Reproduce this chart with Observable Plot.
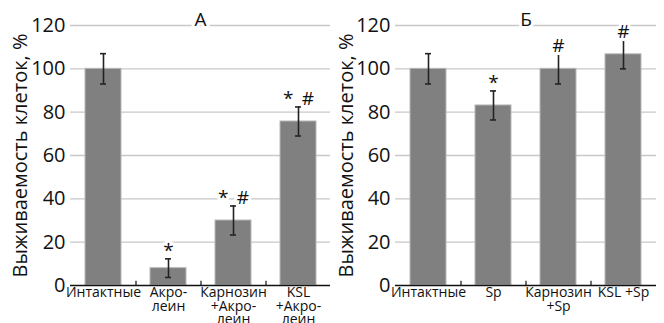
<!DOCTYPE html>
<html><head><meta charset="utf-8">
<script src="https://cdn.jsdelivr.net/npm/d3@7"></script>
<script src="https://cdn.jsdelivr.net/npm/@observablehq/plot@0.6"></script>
<style>
body{margin:0;background:#fff;}
#wrap{display:flex;width:664px;height:323px;overflow:hidden;}
</style></head>
<body><div id="wrap"></div>
<script>
const catsA = ["Интактные", "Акро-\nлеин", "Карнозин\n+Акро-\nлеин", "KSL\n+Акро-\nлеин"];
const valsA = [100, 8, 30, 75.7];
const errA = [7, 4.3, 6.7, 6.7];
const marksA = ["", "*", "* #", "* #"];

const catsB = ["Интактные", "Sp", "Карнозин\n+Sp", "KSL +Sp"];
const valsB = [100, 83.1, 100, 106.7];
const errB = [7, 6.7, 7, 6.7];
const marksB = ["", "*", "#", "#"];

const yTicks = [0, 20, 40, 60, 80, 100, 120];
const titles = ["А", "Б"];
const yLabel = "Выживаемость клеток, %";

function panel(cats, vals, errs, sig, title, mL, mR, lOff) {
  const data = cats.map((c, i) => ({c, v: vals[i], e: errs[i], s: sig[i]}));
  return Plot.plot({
    width: 332, height: 323,
    marginLeft: mL, marginRight: mR, marginTop: 25, marginBottom: 38,
    style: {fontFamily: "'Open Sans', sans-serif", background: "white", overflow: "visible"},
    x: {domain: cats, paddingInner: 0.45, paddingOuter: 0.225, axis: null},
    y: {domain: [0, 120], axis: null},
    marks: [
      Plot.ruleY(yTicks.slice(1), {stroke: "#c8c8c8", strokeWidth: 1.3}),
      Plot.barY(data, {x: "c", y: "v", fill: "#808080", stroke: "#b8b8b8", strokeWidth: 1}),
      Plot.ruleX(data, {x: "c", y1: d => d.v - d.e, y2: d => d.v + d.e, stroke: "#222", strokeWidth: 1.6}),
      Plot.tickY(data, {x: "c", y: d => d.v + d.e, stroke: "#222", strokeWidth: 1.6, inset: 15}),
      Plot.tickY(data, {x: "c", y: d => d.v - d.e, stroke: "#222", strokeWidth: 1.6, inset: 15}),
      Plot.text(data.filter(d => d.s), {x: "c", y: d => d.v + d.e, text: d => d.s.replace(" ", "\u2009\u00a0"), lineAnchor: "bottom", dy: -2,
        fontSize: 19, fill: "#111", stroke: "white", strokeWidth: 6}),
      Plot.ruleX(cats.slice(1), {x: d => d, y1: 0, y2: 2, dx: -32.5, stroke: "#111", strokeWidth: 1.2}),
      Plot.ruleY([0], {stroke: "#111", strokeWidth: 1.5}),
      Plot.ruleX([0], {frameAnchor: "left", y1: 0, y2: 120, stroke: "#111", strokeWidth: 1.5}),
      Plot.axisY(yTicks, {tickSize: 0, tickPadding: 5, fontSize: 20, fill: "#111", label: null}),
      Plot.axisY({label: yLabel, labelAnchor: "center", labelArrow: "none", ticks: [], tickSize: 0, fontSize: 20, labelOffset: lOff, fill: "#111"}),
      Plot.axisX(cats, {tickSize: 0, tickPadding: 2, fontSize: 14, lineHeight: 0.97, fill: "#111", label: null}),
      Plot.text([title], {frameAnchor: "top", dy: -13, fontSize: 19, fill: "#111", stroke: "white", strokeWidth: 6})
    ]
  });
}
const w = document.getElementById("wrap");
w.appendChild(panel(catsA, valsA, errA, marksA, titles[0], 70, 2, 58));
w.appendChild(panel(catsB, valsB, errB, marksB, titles[1], 63, 8, 57));
</script></body></html>
